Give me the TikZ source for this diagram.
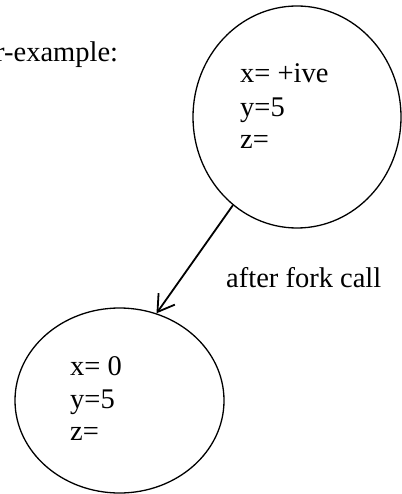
\documentclass[tikz,border=0pt]{standalone}
\usepackage{fontspec}
\setmainfont{Liberation Serif}
\usetikzlibrary{shapes.geometric,arrows.meta}
\begin{document}
\begin{tikzpicture}[x=1pt,y=-1pt,
  bubble/.style={draw,ellipse,line width=1.3pt,inner sep=0pt},
  txt/.style={anchor=base west,inner sep=0pt,font=\fontsize{28.5}{33}\selectfont},
  conn/.style={line width=1.8pt,-{Straight Barb[length=16pt,width=20pt,line width=1.8pt]}}]
\useasboundingbox (0,0) rectangle (401,494);
\node[bubble,minimum width=208pt,minimum height=222pt] (top) at (297,117) {};
\node[bubble,minimum width=209pt,minimum height=185pt] (bot) at (119.5,400.5) {};
\node[txt] (t1) at (240,83) {x= +ive};
\node[txt] (t2) at (240,117) {y=5};
\node[txt] (t3) at (240,149) {z=};
\node[txt] (b1) at (70,375) {x= 0};
\node[txt] (b2) at (70,408) {y=5};
\node[txt] (b3) at (70,440) {z=};
\node[txt] (lab) at (226,287) {after fork call};
\node[txt] (head) at (-5,62) {r-example:};
\draw[conn] (top.234) -- (bot.67.6);
\end{tikzpicture}
\end{document}
